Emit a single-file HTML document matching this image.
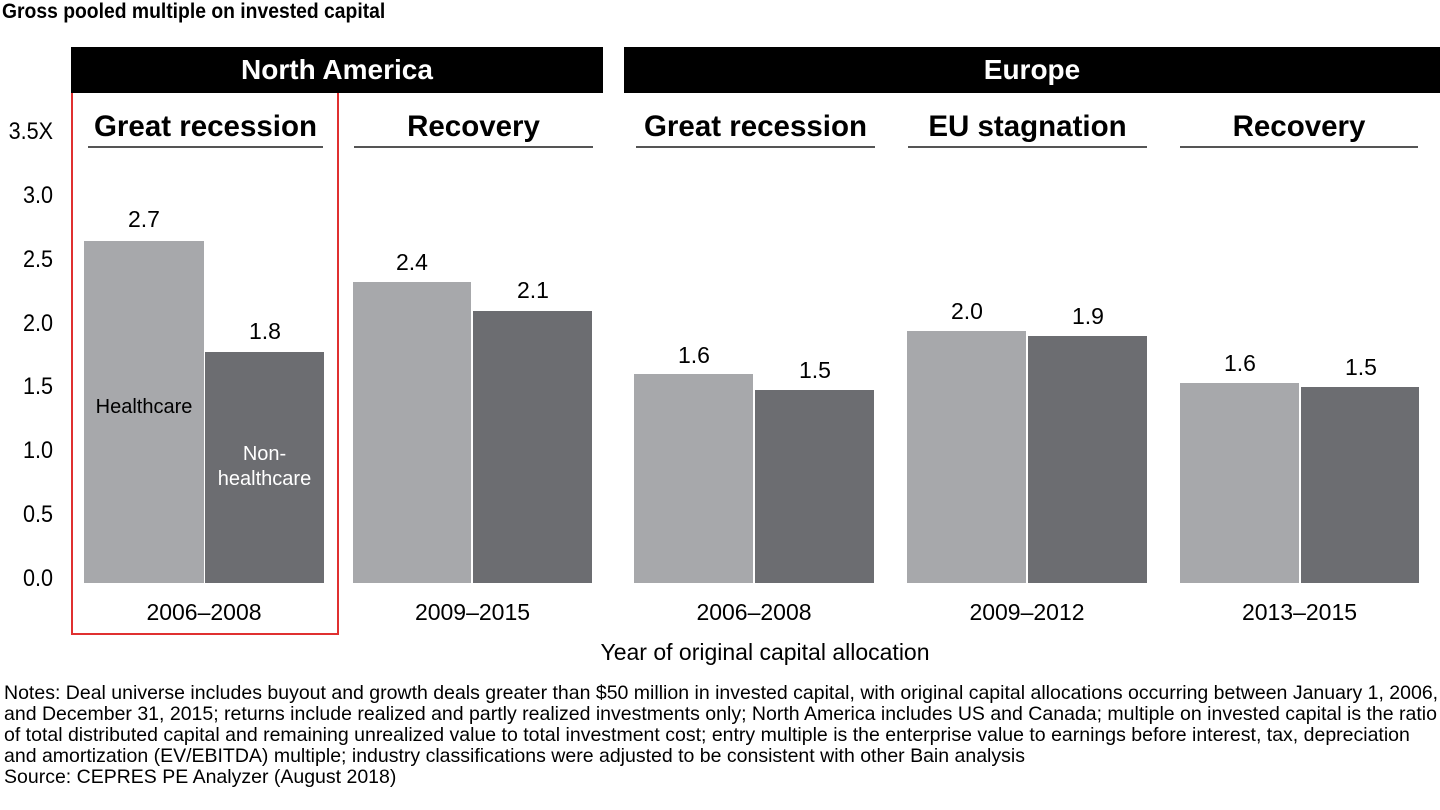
<!DOCTYPE html>
<html><head><style>
body{margin:0;background:#fff;font-family:"Liberation Sans",Arial,sans-serif;color:#000}
.a{position:absolute}
.bar{position:absolute;bottom:227px}
.l{background:#a7a8ab}.d{background:#6c6d71}
.v{position:absolute;font-size:23px;width:120px;text-align:center}
.tk{position:absolute;left:0;width:53px;text-align:right;font-size:24px;transform:scaleX(0.9);transform-origin:right}
.sub{position:absolute;top:108px;font-size:29.5px;font-weight:bold;text-align:center;border-bottom:2px solid #555;height:38px;line-height:38px;padding-top:0}
.yr{position:absolute;top:599px;font-size:23px;text-align:center}
.hd{position:absolute;top:47px;height:46px;background:#000;color:#fff;font-size:28px;font-weight:bold;text-align:center;line-height:46px}
</style></head><body>
<div style="position:relative;width:1440px;height:810px;overflow:hidden">
<div class="a" style="left:2px;top:0;font-size:21px;font-weight:bold;transform:scaleX(0.92);transform-origin:left">Gross pooled multiple on invested capital</div>
<div class="hd" style="left:71px;width:532px">North America</div>
<div class="hd" style="left:624px;width:816px">Europe</div>
<div class="a" style="left:71px;top:93px;width:264px;height:540px;border:2px solid #e03030;border-top:none"></div>
<div class="tk" style="top:118px">3.5X</div>
<div class="tk" style="top:182px">3.0</div>
<div class="tk" style="top:246px">2.5</div>
<div class="tk" style="top:310px">2.0</div>
<div class="tk" style="top:373px">1.5</div>
<div class="tk" style="top:437px">1.0</div>
<div class="tk" style="top:501px">0.5</div>
<div class="tk" style="top:565px">0.0</div>
<div class="sub" style="left:88px;width:235px">Great recession</div>
<div class="sub" style="left:354px;width:239px">Recovery</div>
<div class="sub" style="left:636px;width:239px">Great recession</div>
<div class="sub" style="left:908px;width:239px">EU stagnation</div>
<div class="sub" style="left:1180px;width:238px">Recovery</div>
<div class="bar l" style="left:84px;width:120px;height:342px"></div>
<div class="bar d" style="left:205px;width:119px;height:231px"></div>
<div class="bar l" style="left:353px;width:118px;height:301px"></div>
<div class="bar d" style="left:473px;width:119px;height:272px"></div>
<div class="bar l" style="left:634px;width:119px;height:209px"></div>
<div class="bar d" style="left:755px;width:119px;height:193px"></div>
<div class="bar l" style="left:907px;width:119px;height:252px"></div>
<div class="bar d" style="left:1028px;width:119px;height:247px"></div>
<div class="bar l" style="left:1180px;width:119px;height:200px"></div>
<div class="bar d" style="left:1301px;width:118px;height:196px"></div>
<div class="v" style="left:84px;top:206px">2.7</div>
<div class="v" style="left:205px;top:318px">1.8</div>
<div class="v" style="left:352px;top:249px">2.4</div>
<div class="v" style="left:473px;top:277px">2.1</div>
<div class="v" style="left:634px;top:342px">1.6</div>
<div class="v" style="left:755px;top:357px">1.5</div>
<div class="v" style="left:907px;top:298px">2.0</div>
<div class="v" style="left:1028px;top:303px">1.9</div>
<div class="v" style="left:1180px;top:350px">1.6</div>
<div class="v" style="left:1301px;top:354px">1.5</div>
<div class="a" style="left:84px;top:396px;width:120px;text-align:center;font-size:20px">Healthcare</div>
<div class="a" style="left:205px;top:442px;width:119px;text-align:center;font-size:20px;color:#fff;line-height:25px">Non-<br>healthcare</div>
<div class="yr" style="left:84px;width:240px">2006–2008</div>
<div class="yr" style="left:353px;width:239px">2009–2015</div>
<div class="yr" style="left:634px;width:240px">2006–2008</div>
<div class="yr" style="left:907px;width:240px">2009–2012</div>
<div class="yr" style="left:1180px;width:239px">2013–2015</div>
<div class="a" style="left:520px;top:639px;width:490px;text-align:center;font-size:23px">Year of original capital allocation</div>
<div class="a" style="left:4px;top:683px;width:1440px;font-size:19.5px;line-height:21px;white-space:nowrap">Notes: Deal universe includes buyout and growth deals greater than $50 million in invested capital, with original capital allocations occurring between January 1, 2006,<br>and December 31, 2015; returns include realized and partly realized investments only; North America includes US and Canada; multiple on invested capital is the ratio<br>of total distributed capital and remaining unrealized value to total investment cost; entry multiple is the enterprise value to earnings before interest, tax, depreciation<br>and amortization (EV/EBITDA) multiple; industry classifications were adjusted to be consistent with other Bain analysis<br>Source: CEPRES PE Analyzer (August 2018)</div>
</div>
</body></html>
